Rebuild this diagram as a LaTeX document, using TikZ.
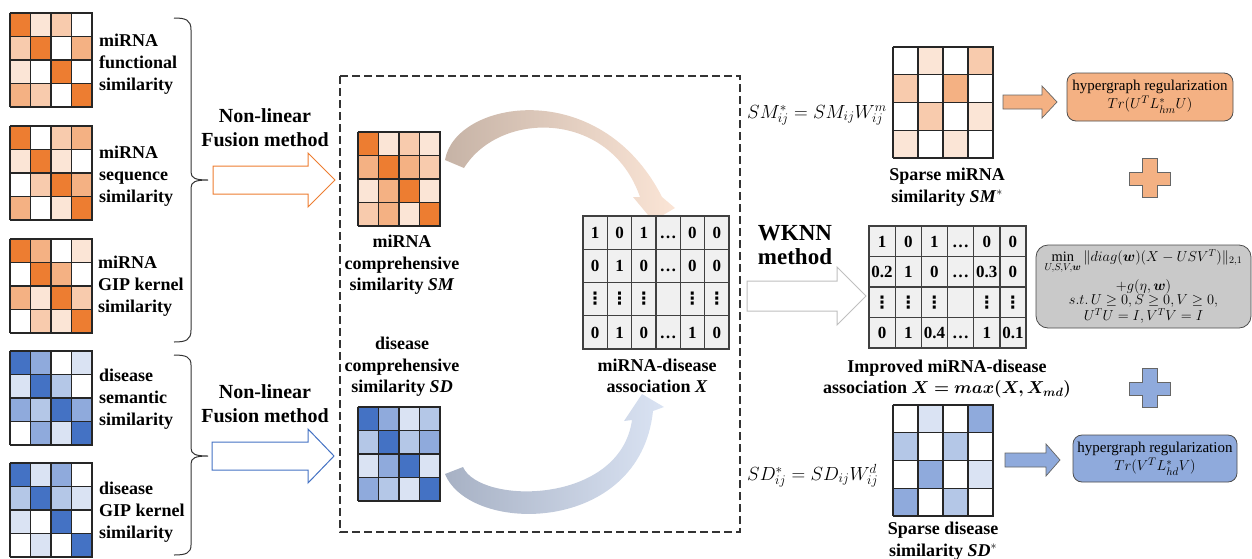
\documentclass[tikz,border=0pt]{standalone}
\usepackage{amsmath,amssymb,bm}
\usepackage{fontspec}
\setmainfont{Liberation Serif}
\newfontfamily\symfont{DejaVu Sans}
\usetikzlibrary{calc}

% palette
\definecolor{oD}{HTML}{ED7D31}
\definecolor{oM}{HTML}{F4B183}
\definecolor{oL}{HTML}{F8CBAD}
\definecolor{oV}{HTML}{FBE5D6}
\definecolor{bD}{HTML}{4472C4}
\definecolor{bM}{HTML}{8FAADC}
\definecolor{bL}{HTML}{B4C7E7}
\definecolor{bV}{HTML}{DAE3F3}
\colorlet{wh}{white}
\definecolor{tabgray}{HTML}{F0F0F0}
\definecolor{boxgray}{HTML}{C9C9C9}
\definecolor{arrgray}{HTML}{BFBFBF}
\definecolor{oShadeA}{HTML}{C6B3A6}
\definecolor{bShadeA}{HTML}{A7B1C4}

% vertical ellipsis used in the value tables
\newcommand{\vdt}{{\symfont\bfseries ⋮}}

% 4x4 heat map: name, left, top, cell width, cell height, 16 colours row by row
\newcommand{\hmap}[6]{%
  \node[inner sep=0, minimum width={4*#4}, minimum height={4*#5}, anchor=north west] (#1) at (#2,#3) {};
  \foreach \c [count=\i from 0] in {#6} {
    \pgfmathtruncatemacro\hr{int(\i/4)}
    \pgfmathtruncatemacro\hc{mod(\i,4)}
    \fill[\c] ({#2+\hc*#4},{#3+\hr*#5}) rectangle ++(#4,#5);
  }
  \foreach \k in {0,...,4} {
    \draw[cellgrid] ({#2+\k*#4},#3) -- ++(0,{4*#5});
    \draw[cellgrid] ({#2-0.5},{#3+\k*#5}) -- ++({4*#4+1},0);
  }
}

% 4x6 value table: name, left, top, cell width, cell height, 24 entries row by row
\newcommand{\numtab}[6]{%
  \node[inner sep=0, minimum width={6*#4}, minimum height={4*#5}, anchor=north west, fill=tabgray] (#1) at (#2,#3) {};
  \foreach \e [count=\i from 0] in {#6} {
    \pgfmathtruncatemacro\hr{int(\i/6)}
    \pgfmathtruncatemacro\hc{mod(\i,6)}
    \node[tabtext] (#1-\i) at ({#2+(\hc+0.5)*#4},{#3+(\hr+0.5)*#5}) {\e};
  }
  \foreach \k in {0,...,6} \draw[tabline] ({#2+\k*#4},#3) -- ++(0,{4*#5});
  \foreach \k in {0,...,4} \draw[tabline] ({#2-0.6},{#3+\k*#5}) -- ++({6*#4+1.2},0);
}

\begin{document}
\begin{tikzpicture}[x=1pt,y=-1pt,
  cellgrid/.style={line width=1.1pt, draw=black!85},
  tabline/.style={line width=1.3pt, draw=black!75},
  tabtext/.style={font=\fontsize{17}{17}\selectfont\bfseries, inner sep=0, text height=11.5pt, text depth=0pt},
  lbl/.style={font=\fontsize{18}{22}\selectfont\bfseries, inner sep=0, align=left, anchor=west},
  ctr/.style={font=\fontsize{18}{21.5}\selectfont\bfseries, inner sep=0, align=center},
  fusion/.style={font=\fontsize{20}{24}\selectfont\bfseries, inner sep=0, align=center},
  bracepath/.style={line width=1pt, draw=black!80},
  hollow/.style={line width=1pt, fill=white},
  frame/.style={line width=1.2pt, draw=black!80, dash pattern=on 8pt off 4pt},
  hyper/.style={rounded corners=9pt, draw=black!70, line width=0.8pt, minimum width=166pt,
                inner sep=0, align=center, font=\fontsize{15}{18}\selectfont},
  formula/.style={font=\fontsize{17.28}{18}\selectfont, inner sep=0},
  solidarrow/.style={line width=0.7pt, draw=black!60},
  plus/.style={line width=0.7pt, draw=black!60}
]
\useasboundingbox (0,0) rectangle (1252,558);

% ---------- source similarity matrices ----------
\hmap{mf}{10}{13}{20.5}{23.5}{oD,oV,oL,wh, oL,oD,wh,oM, oV,wh,oD,wh, oM,oL,wh,oD}
\hmap{ms}{10}{126}{20.5}{23.5}{oD,wh,oL,oM, oV,oD,oV,wh, wh,oL,oD,oM, oM,wh,oV,oD}
\hmap{mg}{10}{239}{20.5}{23.5}{oD,oM,wh,oV, wh,oD,oM,wh, oM,oV,oD,oL, wh,oL,oV,oD}
\hmap{ds}{10}{351}{20.5}{23.5}{bD,bM,wh,bV, bV,bD,bL,wh, bM,bL,bD,bM, wh,bM,bV,bD}
\hmap{dg}{10}{463}{20.5}{23.5}{bD,bV,bM,wh, bL,bD,bL,bV, bV,wh,bD,wh, wh,bV,wh,bD}

\node[lbl] (mfl) at (99,64) {miRNA\\functional\\similarity};
\node[lbl] (msl) at (99,176) {miRNA\\sequence\\similarity};
\node[lbl] (mgl) at (98,286) {miRNA\\GIP kernel\\similarity};
\node[lbl] (dsl) at (99,399) {disease\\semantic\\similarity};
\node[lbl] (dgl) at (99,512) {disease\\GIP kernel\\similarity};

% ---------- braces ----------
\draw[bracepath] (174,18) .. controls (186,18) and (191,20) .. (191,30) -- (191,172)
  .. controls (191,178) and (195,180) .. (208,180)
  .. controls (195,180) and (191,182) .. (191,188) -- (191,330)
  .. controls (191,340) and (186,342) .. (174,342);
\draw[bracepath] (174,355) .. controls (186,355) and (191,357) .. (191,365) -- (191,448)
  .. controls (191,454) and (195,456) .. (208,456)
  .. controls (195,456) and (191,458) .. (191,464) -- (191,545)
  .. controls (191,553) and (186,555) .. (174,555);

% ---------- fusion arrows ----------
\node[fusion] (fm) at (265,128) {Non-linear\\Fusion method};
\node[fusion] (fd) at (265,404) {Non-linear\\Fusion method};
\draw[hollow, draw=oD] (213,166) -- (308,166) -- (308,153) -- (335,180) -- (308,207) -- (308,194) -- (213,194) -- cycle;
\draw[hollow, draw=bD] (212,442) -- (308,442) -- (308,429) -- (334,456) -- (308,483) -- (308,470) -- (212,470) -- cycle;

% ---------- dashed frame ----------
\draw[frame] (340,76) rectangle (740,532);

% ---------- comprehensive similarities ----------
\hmap{sm}{358}{132}{20.5}{23.5}{oD,oV,oL,oV, oM,oD,oM,oL, oV,oM,oD,oV, oL,oM,oV,oD}
\hmap{sd}{358}{407}{20.5}{23.5}{bD,bM,bV,bL, bL,bD,bL,bM, bV,bM,bD,bV, bM,bL,bV,bD}
\node[ctr] (sml) at (402,265) {miRNA\\comprehensive\\similarity \textit{SM}};
\node[ctr] (sdl) at (402,367) {disease\\comprehensive\\similarity \textit{SD}};

% ---------- curved arrows into the association matrix ----------
\shade[left color=oShadeA, right color=oV]
  (445,160) .. controls (455,100) and (600,75) .. (662,197)
  -- (675,208) -- (653,221) -- (633,197) -- (640,197)
  .. controls (610,110) and (500,110) .. (464,168) -- cycle;
\shade[left color=bShadeA, right color=bV]
  (445,474) .. controls (470,535) and (640,535) .. (653,411)
  -- (664,407) -- (642,394) -- (624,421) -- (632,420)
  .. controls (620,505) and (480,505) .. (463,467) -- cycle;

% ---------- association matrix X ----------
\numtab{X}{583}{216}{24.33}{33.25}{1,0,1,\ldots,0,0, 0,1,0,\ldots,0,0, \vdt,\vdt,\vdt,{},\vdt,\vdt, 0,1,0,\ldots,1,0}
\node[ctr] (xl) at (657,376) {miRNA-disease\\association \textit{X}};

% ---------- WKNN step ----------
\node[font=\fontsize{23}{24.5}\selectfont\bfseries, inner sep=0, align=center] (wk) at (795,245) {WKNN\\method};
\draw[hollow, draw=arrgray] (747,281) -- (837,281) -- (837,267) -- (866,296) -- (837,325) -- (837,311) -- (747,311) -- cycle;

% ---------- improved association matrix ----------
\numtab{Xi}{869}{226}{26.17}{30.5}{1,0,1,\ldots,0,0, 0.2,1,0,\ldots,0.3,0, \vdt,\vdt,\vdt,{},\vdt,\vdt, 0,1,0.4,\ldots,1,0.1}
\node[ctr] (xil) at (947,379) {Improved miRNA-disease\\association $\boldsymbol{X=max(X,X_{md})}$};

% ---------- sparse similarities ----------
\node[formula, anchor=base west] (smf) at (747,118) {\scalebox{1.1}{$SM^*_{ij}=SM_{ij}W^m_{ij}$}};
\hmap{sms}{893}{47}{25}{27.75}{wh,oV,wh,oL, oL,wh,oM,wh, wh,oL,wh,oV, oV,wh,oV,wh}
\node[ctr] (smsl) at (947,187) {Sparse miRNA\\similarity \textit{SM}$^{*}$};

\node[formula, anchor=base west] (sdf) at (747,480) {\scalebox{1.1}{$SD^*_{ij}=SD_{ij}W^d_{ij}$}};
\hmap{sds}{893}{405}{25}{27.75}{wh,bV,wh,bM, bL,wh,bL,wh, wh,bM,wh,bV, bM,wh,bL,wh}
\node[ctr] (sdsl) at (943,541) {Sparse disease\\similarity \textit{SD}$^{*}$};

% ---------- hypergraph regularization terms ----------
\node[hyper, fill=oM, minimum height=48pt] (hm) at (1150,97) {hypergraph regularization\\$Tr(U^TL^*_{hm}U)$};
\node[hyper, fill=bM, minimum height=47pt, minimum width=164pt] (hd) at (1155,458.5) {hypergraph regularization\\$Tr(V^TL^*_{hd}V)$};

\draw[solidarrow, fill=oM] (1003,95) -- (1042,95) -- (1042,86) -- (1057,102) -- (1042,118) -- (1042,109) -- (1003,109) -- cycle;
\draw[solidarrow, fill=bM] (1005,453) -- (1046,453) -- (1046,444) -- (1060,460) -- (1046,476) -- (1046,467) -- (1005,467) -- cycle;

% ---------- plus signs ----------
\draw[plus, fill=oM] (1142,158) -- (1157,158) -- (1157,172) -- (1170,172) -- (1170,185) -- (1157,185)
  -- (1157,197) -- (1142,197) -- (1142,185) -- (1129,185) -- (1129,172) -- (1142,172) -- cycle;
\draw[plus, fill=bM] (1142,368) -- (1157,368) -- (1157,382) -- (1170,382) -- (1170,395) -- (1157,395)
  -- (1157,407) -- (1142,407) -- (1142,395) -- (1129,395) -- (1129,382) -- (1142,382) -- cycle;

% ---------- objective ----------
\node[rounded corners=12pt, draw=black!70, line width=0.8pt, fill=boxgray, minimum width=215pt,
      minimum height=83pt, inner sep=0, align=center, font=\fontsize{14.4}{14.8}\selectfont] (obj) at (1143.5,286.5)
  {$\min\limits_{U,S,V,\boldsymbol{w}}\|diag(\boldsymbol{w})(X-USV^T)\|_{2,1}$\\[4pt]
   $+g(\eta,\boldsymbol{w})$\\
   $s.t.\,U\geq 0,S\geq 0,V\geq 0,$\\
   $U^TU=I,V^TV=I$};
\end{tikzpicture}
\end{document}
